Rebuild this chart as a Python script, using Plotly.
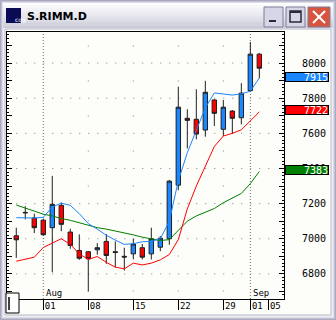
import plotly.graph_objects as go

# ---------------- data ----------------
days = ["07-27", "07-28", "07-29",
        "08-01", "08-02", "08-03", "08-04", "08-05",
        "08-08", "08-09", "08-10", "08-11", "08-12",
        "08-15", "08-16", "08-17", "08-18", "08-19",
        "08-22", "08-23", "08-24", "08-25", "08-26",
        "08-29", "08-30", "08-31", "09-01", "09-02", "09-05"]

opens  = [7017, 7150, 7118, 7106, 7063, 7190, 7038, 6933, 6926, 6937,
          6985, 6926, 6900, 6914, 6949, 6914, 6952, 7000, 7305, 7686,
          7680, 7619, 7790, 7623, 7727, 7689, 7843, 8051]
highs  = [7063, 7185, 7143, 7115, 7358, 7206, 7057, 7025, 6930, 6975,
          7027, 6985, 6949, 7000, 6970, 7063, 7015, 7335, 7866, 7737,
          7851, 7899, 7795, 7790, 7732, 7886, 8120, 8057]
lows   = [6891, 7110, 7032, 7018, 6809, 7043, 6943, 6880, 6700, 6909,
          6857, 6838, 6819, 6882, 6882, 6882, 6929, 6966, 7276, 7514,
          7566, 7581, 7642, 7585, 7598, 7651, 7838, 7914]
closes = [6994, 7148, 7063, 7023, 7196, 7082, 6962, 6889, 6886, 6949,
          6905, 6922, 6896, 6970, 6895, 7000, 7003, 7328, 7749, 7674,
          7596, 7834, 7714, 7749, 7686, 7829, 8051, 7971]

ma_blue  = [7120, 7118, 7118, 7122, 7180, 7203, 7190, 7143, 7086, 7055,
            7020, 6992, 6968, 6972, 6983, 6985, 7000, 7100, 7330, 7490,
            7615, 7745, 7830, 7825, 7818, 7825, 7840, 7915]
ma_red   = [6872, 6882, 6895, 6950, 6975, 7000, 6968, 6914, 6882, 6899,
            6866, 6838, 6829, 6861, 6851, 6861, 6880, 6910, 6995, 7170,
            7300, 7410, 7525, 7585, 7600, 7620, 7670, 7722]
ma_green = [7192, 7175, 7155, 7140, 7130, 7115, 7105, 7092, 7075, 7063,
            7055, 7045, 7034, 7022, 7009, 6998, 6990, 6995, 7048, 7100,
            7130, 7150, 7172, 7205, 7230, 7258, 7314, 7383]

tick_days   = ["08-01", "08-08", "08-15", "08-22", "08-29", "09-01", "09-05"]
tick_labels = ["01", "08", "15", "22", "29", "01", "05"]
month_days   = ["08-01", "09-01"]
month_labels = ["Aug", "Sep"]
week_days = ["08-08", "08-15", "08-22", "08-29"]
y_labels = [6800, 7000, 7200, 7400, 7600, 7800, 8000]
tags = [(7915, "#1a86ff"), (7722, "#ff0000"), (7383, "#008000")]
title = "S.RIMM.D"

# ---------------- geometry helpers ----------------
W, H = 336, 320
PL, PR, PT, PB = 7, 284, 32, 299


def px(x):
    return (x - PL) / (PR - PL)


def py(y):
    return (PB - y) / (PB - PT)


idx = {d: i for i, d in enumerate(days)}
xs = list(range(len(opens)))

fig = go.Figure()

fig.add_trace(go.Candlestick(
    x=xs, open=opens, high=highs, low=lows, close=closes,
    increasing=dict(line=dict(color="#202020", width=1), fillcolor="#1a86ff"),
    decreasing=dict(line=dict(color="#202020", width=1), fillcolor="#ff0000"),
    whiskerwidth=0, showlegend=False, hoverinfo="skip"))

for vals, col in [(ma_green, "#008000"), (ma_red, "#ff0000"), (ma_blue, "#1a86ff")]:
    fig.add_trace(go.Scatter(x=xs, y=vals, mode="lines",
                             line=dict(color=col, width=1),
                             showlegend=False, hoverinfo="skip"))

shapes = []
# window frame / background
shapes.append(dict(type="rect", xref="paper", yref="paper",
                   x0=px(0), x1=px(336), y0=py(320), y1=py(0),
                   fillcolor="#a9a9c2", line=dict(width=0), layer="below"))
shapes.append(dict(type="rect", xref="paper", yref="paper",
                   x0=px(1.5), x1=px(334.5), y0=py(318.5), y1=py(1.5),
                   fillcolor="#dcdce6", line=dict(width=0), layer="below"))
shapes.append(dict(type="rect", xref="paper", yref="paper",
                   x0=px(3), x1=px(333), y0=py(317), y1=py(3),
                   fillcolor="#eeeef3", line=dict(width=0), layer="below"))
# title bar gradient
grad = ["#fdfdfe", "#f8f8fb", "#f3f3f7", "#eeeef3", "#e9e9ef",
        "#e4e4ec", "#dedee7", "#d8d8e2", "#d2d2dd", "#cbcbd7"]
for k, c in enumerate(grad):
    shapes.append(dict(type="rect", xref="paper", yref="paper",
                       x0=px(3), x1=px(333), y0=py(3 + (k + 1) * 2.5), y1=py(3 + k * 2.5),
                       fillcolor=c, line=dict(width=0), layer="below"))
# content area
shapes.append(dict(type="rect", xref="paper", yref="paper",
                   x0=px(5), x1=px(331), y0=py(315), y1=py(29),
                   fillcolor="#fdfdfa", line=dict(color="#b8b8c8", width=1), layer="below"))
# icon
shapes.append(dict(type="rect", xref="paper", yref="paper",
                   x0=px(6), x1=px(21), y0=py(23), y1=py(8),
                   fillcolor="#0b0b55", line=dict(width=0)))
# buttons
for x0, x1, fill in [(264, 283, "#d6d6e6"), (286, 305, "#d6d6e6"), (308, 330, "#d9543e")]:
    shapes.append(dict(type="rect", xref="paper", yref="paper",
                       x0=px(x0), x1=px(x1), y0=py(27), y1=py(7),
                       fillcolor=fill, line=dict(color="#7d7d98", width=1)))
shapes.append(dict(type="rect", xref="paper", yref="paper",
                   x0=px(269), x1=px(276), y0=py(22), y1=py(20),
                   fillcolor="#2a2a3a", line=dict(width=0)))
shapes.append(dict(type="rect", xref="paper", yref="paper",
                   x0=px(290), x1=px(301), y0=py(22), y1=py(11),
                   fillcolor="rgba(0,0,0,0)", line=dict(color="#2a2a3a", width=1.5)))
shapes.append(dict(type="line", xref="paper", yref="paper",
                   x0=px(290), x1=px(301), y0=py(12), y1=py(12),
                   line=dict(color="#2a2a3a", width=2)))
shapes.append(dict(type="line", xref="paper", yref="paper",
                   x0=px(313), x1=px(325), y0=py(11), y1=py(23),
                   line=dict(color="white", width=2)))
shapes.append(dict(type="line", xref="paper", yref="paper",
                   x0=px(313), x1=px(325), y0=py(23), y1=py(11),
                   line=dict(color="white", width=2)))

# grid: horizontal dotted lines (one dot per trading day)
for v in y_labels:
    shapes.append(dict(type="line", xref="x", yref="y",
                       x0=0, x1=len(days), y0=v, y1=v,
                       line=dict(color="#808080", width=1, dash="1px,8px"), layer="below"))
# weekly columns: sparse dots
for d in week_days:
    shapes.append(dict(type="line", xref="x", yref="y",
                       x0=idx[d], x1=idx[d], y0=8100, y1=6700,
                       line=dict(color="#808080", width=1, dash="1px,34px"), layer="below"))
# month lines
for d in month_days:
    shapes.append(dict(type="line", xref="x", yref="paper",
                       x0=idx[d], x1=idx[d], y0=0, y1=1,
                       line=dict(color="#707070", width=1, dash="1px,2px"), layer="below"))

# little box at lower left
shapes.append(dict(type="rect", xref="paper", yref="paper",
                   x0=px(6), x1=px(19), y0=py(313), y1=py(293),
                   fillcolor="white", line=dict(color="black", width=1)))
shapes.append(dict(type="line", xref="paper", yref="paper",
                   x0=px(9), x1=px(9), y0=py(310), y1=py(297),
                   line=dict(color="black", width=1.5)))

annotations = []
annotations.append(dict(text="cqg", xref="paper", yref="paper", x=px(13.5), y=py(15.5),
                        showarrow=False, borderpad=0,
                        font=dict(family="DejaVu Sans", size=6, color="white")))
annotations.append(dict(text="<b>" + title + "</b>", xref="paper", yref="paper",
                        x=px(26), y=py(16.5), xanchor="left", yanchor="middle",
                        showarrow=False, borderpad=0,
                        font=dict(family="DejaVu Sans", size=11, color="black")))
for d, lab in zip(month_days, month_labels):
    annotations.append(dict(text=lab, xref="x", yref="paper", x=idx[d], y=0,
                            xanchor="left", yanchor="bottom", xshift=1, yshift=-1,
                            showarrow=False,
                            font=dict(family="DejaVu Sans Mono", size=9, color="black")))
for v, c in tags:
    annotations.append(dict(text=str(v), xref="paper", yref="y", x=px(285), y=v,
                            xanchor="left", yanchor="middle", yshift=1.5,
                            width=42, height=8, align="right", borderpad=0,
                            bgcolor=c, bordercolor="black", borderwidth=1,
                            showarrow=False,
                            font=dict(family="DejaVu Sans Mono", size=10, color="white")))

ytv = list(range(6700, 8200, 100))
ytt = [str(v) if v in y_labels else "" for v in ytv]

fig.update_layout(
    width=W, height=H,
    margin=dict(l=PL, r=W - PR, t=PT, b=H - PB),
    paper_bgcolor="#dcdce6", plot_bgcolor="white",
    shapes=shapes, annotations=annotations,
    xaxis=dict(range=[-1.03, 29.74], rangeslider=dict(visible=False),
               tickvals=[idx[d] for d in tick_days], ticktext=tick_labels,
               ticks="outside", ticklen=10, tickcolor="black", tickwidth=1,
               ticklabelshift=7, ticklabelstandoff=-12,
               showgrid=False, zeroline=False,
               showline=True, linecolor="black", linewidth=1, mirror=True,
               tickfont=dict(family="DejaVu Sans Mono", size=9, color="black")),
    yaxis=dict(range=[6657, 8177], side="right",
               tickvals=ytv, ticktext=ytt,
               ticks="inside", ticklen=5, tickcolor="black", tickwidth=1,
               minor=dict(dtick=20, tick0=0, ticks="inside", ticklen=2, tickcolor="black"),
               ticklabelstandoff=15,
               showgrid=False, zeroline=False,
               showline=True, linecolor="black", linewidth=1, mirror="ticks",
               tickfont=dict(family="DejaVu Sans Mono", size=10, color="black")),
)

fig.write_html("out.html")
